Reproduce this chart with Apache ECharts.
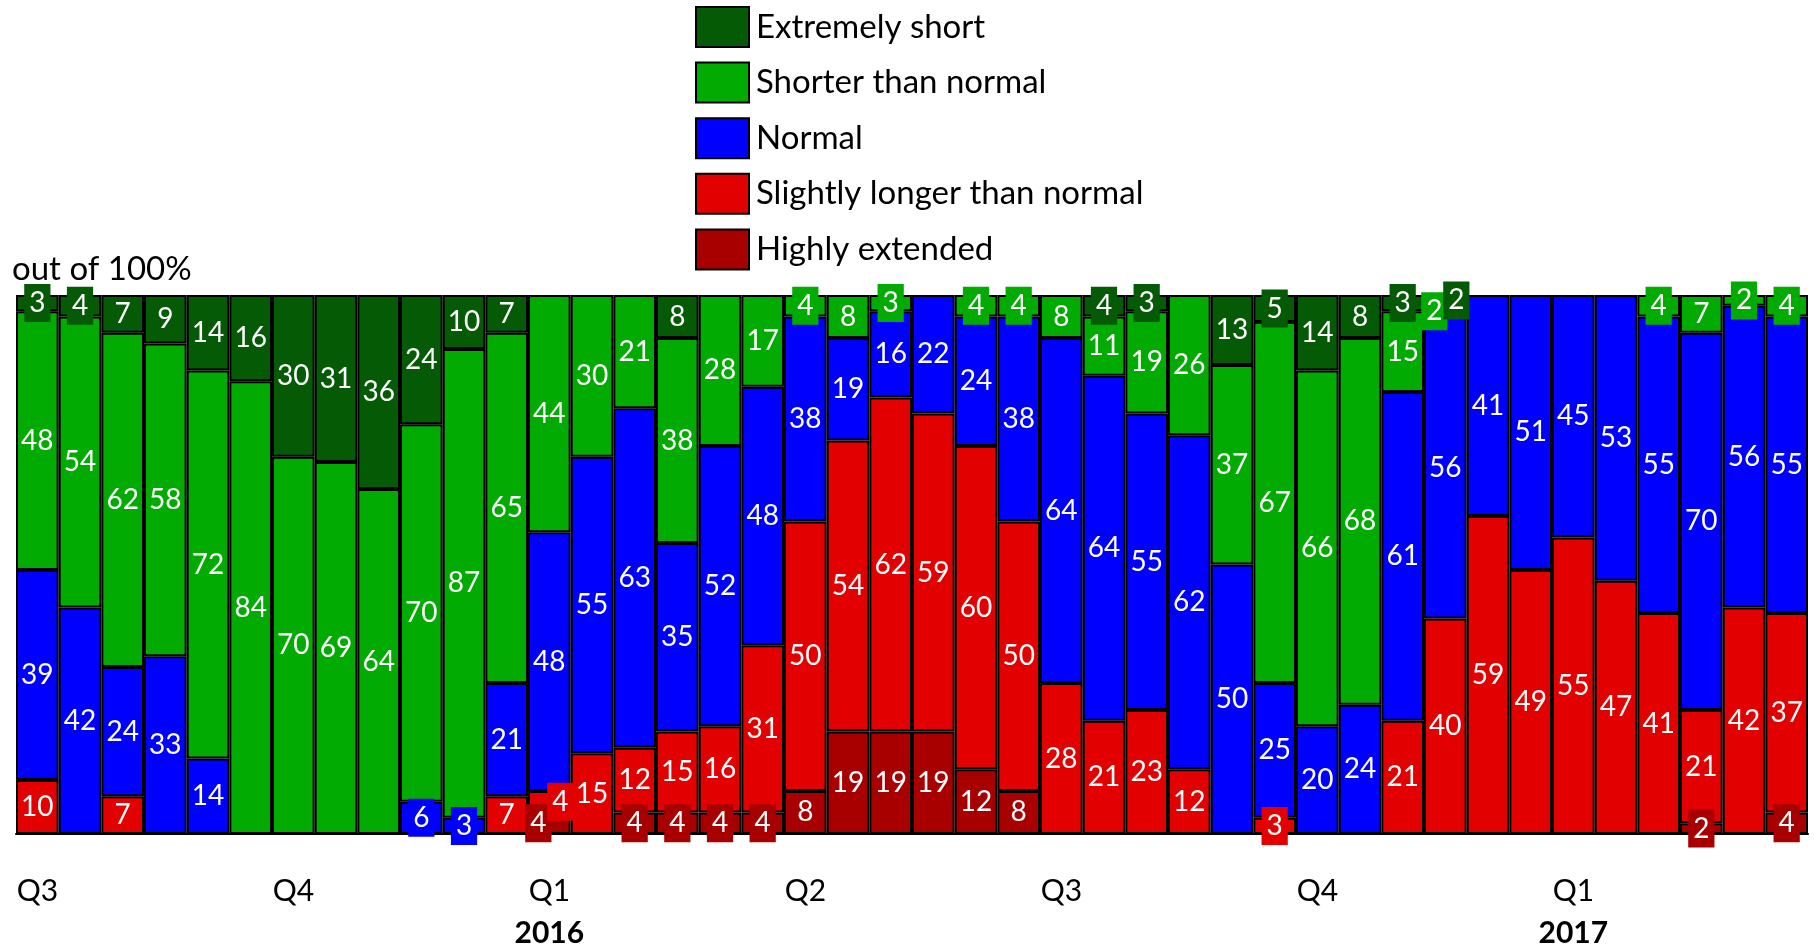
<!DOCTYPE html>
<html>
<head>
<meta charset="utf-8">
<script src="https://cdn.jsdelivr.net/npm/echarts@6/dist/echarts.min.js"></script>
<style>
html,body{margin:0;padding:0;background:#fff;}
#chart{width:1814px;height:948px;}
</style>
</head>
<body>
<div id="chart"></div>
<script>
// ---- data ----
const quarterLabels = ['Q3','','','','','','Q4','','','','','','Q1','','','','','','Q2','','','','','','Q3','','','','','','Q4','','','','','','Q1','','','','',''];
const yearLabels    = ['','','','','','','','','','','','','2016','','','','','','','','','','','','','','','','','','','','','','','','2017','','','','',''];
const extremelyShort = [3,4,7,9,14,16,30,31,36,24,10,7,0,0,0,8,0,0,0,0,0,0,0,0,0,4,3,0,13,5,14,8,3,2,0,0,0,0,0,0,0,0];
const shorterThanNormal = [48,54,62,58,72,84,70,69,64,70,87,65,44,30,21,38,28,17,4,8,3,0,4,4,8,11,19,26,37,67,66,68,15,2,0,0,0,0,4,7,2,4];
const normal = [39,42,24,33,14,0,0,0,0,6,3,21,48,55,63,35,52,48,38,19,16,22,24,38,64,64,55,62,50,25,20,24,61,56,41,51,45,53,55,70,56,55];
const slightlyLonger = [10,0,7,0,0,0,0,0,0,0,0,7,4,15,12,15,16,31,50,54,62,59,60,50,28,21,23,12,0,3,0,0,21,40,59,49,55,47,41,21,42,37];
const highlyExtended = [0,0,0,0,0,0,0,0,0,0,0,0,4,0,4,4,4,4,8,19,19,19,12,8,0,0,0,0,0,0,0,0,0,0,0,0,0,0,0,2,0,4];

const seriesDefs = [
  {name:'Highly extended', data:highlyExtended, color:'#a80000'},
  {name:'Slightly longer than normal', data:slightlyLonger, color:'#e30000'},
  {name:'Normal', data:normal, color:'#0000ff'},
  {name:'Shorter than normal', data:shorterThanNormal, color:'#02ab02'},
  {name:'Extremely short', data:extremelyShort, color:'#055a05'}
];
const categories = quarterLabels.map((q,i)=>'p'+i);
const FONT = 'Lato, "Open Sans", sans-serif';
const SMALL = 6;

function prevNonNull(si, di){
  for(let k=si-1;k>=0;k--){ const v=seriesDefs[k].data[di]; if(v) return v; }
  return null;
}
function nextNonNull(si, di){
  for(let k=si+1;k<seriesDefs.length;k++){ const v=seriesDefs[k].data[di]; if(v) return v; }
  return null;
}

const series = seriesDefs.map((s,si)=>({
  name:s.name,
  type:'bar',
  stack:'total',
  barCategoryGap:'0%',
  itemStyle:{color:s.color,borderColor:'#000',borderWidth:2},
  label:{show:true,position:'inside',color:'#fff',fontSize:28,fontFamily:FONT,lineHeight:28},
  data:s.data.map((v,di)=>{
    if(!v) return null;
    if(v<=SMALL){
      let off=0;
      const below=prevNonNull(si,di), above=nextNonNull(si,di);
      if(below!==null && below<=SMALL) off=11;
      else if(above!==null && above<=SMALL) off=-11;
      return {value:v,label:{backgroundColor:s.color,padding:[5,5,5,5],offset:[off,0]}};
    }
    return v;
  })
}));

const chart = echarts.init(document.getElementById('chart'));
chart.setOption({
  animation:false,
  title:{text:'out of 100%',left:12,top:253,padding:0,textStyle:{fontFamily:FONT,fontSize:33,fontWeight:'normal',color:'#000'}},
  legend:{
    orient:'vertical',left:690,top:1,itemWidth:53,itemHeight:40,itemGap:13.6,
    data:['Extremely short','Shorter than normal','Normal','Slightly longer than normal','Highly extended'],
    icon:'rect',
    itemStyle:{borderColor:'#000',borderWidth:2},
    textStyle:{fontFamily:FONT,fontSize:33,lineHeight:40,color:'#000',padding:[0,0,0,2]}
  },
  grid:{left:16,right:6,top:295,bottom:109},
  xAxis:{
    type:'category',data:categories,
    axisTick:{show:false},
    axisLine:{show:true,lineStyle:{color:'#000',width:2}},
    axisLabel:{
      interval:0,margin:36,
      formatter:(v,i)=>{
        const q=quarterLabels[i], y=yearLabels[i];
        if(!q) return '';
        return '{q|'+q+'}'+(y?'\n{y|'+y+'}':'');
      },
      rich:{
        q:{fontFamily:FONT,fontSize:30,color:'#000',lineHeight:42},
        y:{fontFamily:FONT,fontSize:30,fontWeight:'bold',color:'#000',lineHeight:42}
      }
    }
  },
  yAxis:{type:'value',min:0,max:100,show:false,splitLine:{show:false}},
  series:series
});
</script>
</body>
</html>
